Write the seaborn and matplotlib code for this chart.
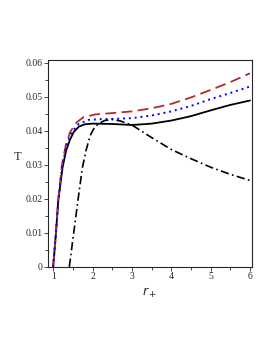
import matplotlib
matplotlib.use("Agg")
import matplotlib.pyplot as plt
from matplotlib.ticker import MultipleLocator
import seaborn as sns

# values
r_solid = [1.0, 1.07, 1.13, 1.24, 1.33, 1.42, 1.52, 1.65, 1.8, 2.0, 2.5,
           3.0, 3.5, 4.0, 4.5, 5.0, 5.5, 6.0]
T_solid = [0.0, 0.0098, 0.0196, 0.0293, 0.0342, 0.0372, 0.0396, 0.0412, 0.0419, 0.0421, 0.0420,
           0.0417, 0.0421, 0.0430, 0.0443, 0.0460, 0.0476, 0.0489]

r_dash = [1.0, 1.07, 1.13, 1.22, 1.32, 1.43, 1.6, 1.77, 2.07, 2.5, 3.0, 3.5, 4.0, 4.5,
          5.0, 5.5, 6.0]
T_dash = [0.0, 0.0098, 0.0196, 0.0298, 0.0357, 0.0396, 0.0425, 0.0440, 0.0448, 0.0452,
          0.0457, 0.0466, 0.0479, 0.0498, 0.0520, 0.0543, 0.0569]

r_dot = [1.0, 1.07, 1.13, 1.23, 1.34, 1.47, 1.65, 1.9, 2.2, 2.5, 3.0, 3.5, 4.0, 4.5,
         5.0, 5.5, 6.0]
T_dot = [0.0, 0.0098, 0.0196, 0.0296, 0.0357, 0.0396, 0.0420, 0.0432, 0.0434, 0.0435,
         0.0437, 0.0445, 0.0457, 0.0473, 0.0493, 0.0511, 0.0530]

r_dashdot = [1.41, 1.52, 1.63, 1.74, 1.83, 1.94, 2.05, 2.15, 2.3, 2.5, 2.7, 3.0, 3.5, 4.0,
             4.5, 5.0, 5.5, 6.0]
T_dashdot = [0.0, 0.0098, 0.0196, 0.029, 0.034, 0.0386, 0.041, 0.042, 0.0430, 0.0433,
             0.0429, 0.0417, 0.0380, 0.0345, 0.0318, 0.0293, 0.0272, 0.0254]

x_ticks = [1, 2, 3, 4, 5, 6]
y_ticks = [0, 0.01, 0.02, 0.03, 0.04, 0.05, 0.06]
y_labels = ["0", "0.01", "0.02", "0.03", "0.04", "0.05", "0.06"]

sns.set_style("ticks")
plt.rcParams["font.family"] = ["Liberation Serif", "DejaVu Serif"]

fig = plt.figure(figsize=(2.73, 3.53), dpi=100)
ax = fig.add_axes([0.176, 0.244, 0.747, 0.586])

sns.lineplot(x=r_solid, y=T_solid, ax=ax, color="black", lw=1.3, sort=False)
sns.lineplot(x=r_dash, y=T_dash, ax=ax, color="#b22a2a", lw=1.3, sort=False).lines[-1].set_dashes([6, 3])
sns.lineplot(x=r_dot, y=T_dot, ax=ax, color="blue", lw=1.4, sort=False).lines[-1].set_dashes([1, 2])
sns.lineplot(x=r_dashdot, y=T_dashdot, ax=ax, color="black", lw=1.2, sort=False).lines[-1].set_dashes([5, 2, 1, 2])

ax.set_xlim(0.87, 6.05)
ax.set_ylim(0, 0.0608)
ax.set_xticks(x_ticks)
ax.set_xticklabels([str(v) for v in x_ticks])
ax.set_yticks(y_ticks)
ax.set_yticklabels(y_labels)
ax.xaxis.set_minor_locator(MultipleLocator(0.5))
ax.yaxis.set_minor_locator(MultipleLocator(0.005))
ax.tick_params(axis="both", which="major", labelsize=7, length=3, width=0.6, pad=1)
ax.tick_params(axis="both", which="minor", length=2, width=0.6)
for s in ax.spines.values():
    s.set_linewidth(0.8)
    s.set_visible(True)

ax.set_ylabel("T", rotation=0, fontsize=9)
ax.yaxis.set_label_coords(-0.15, 0.5)
ax.set_xlabel(r"$r_+$", fontsize=9, labelpad=3)

fig.savefig("out.png", dpi=100)
